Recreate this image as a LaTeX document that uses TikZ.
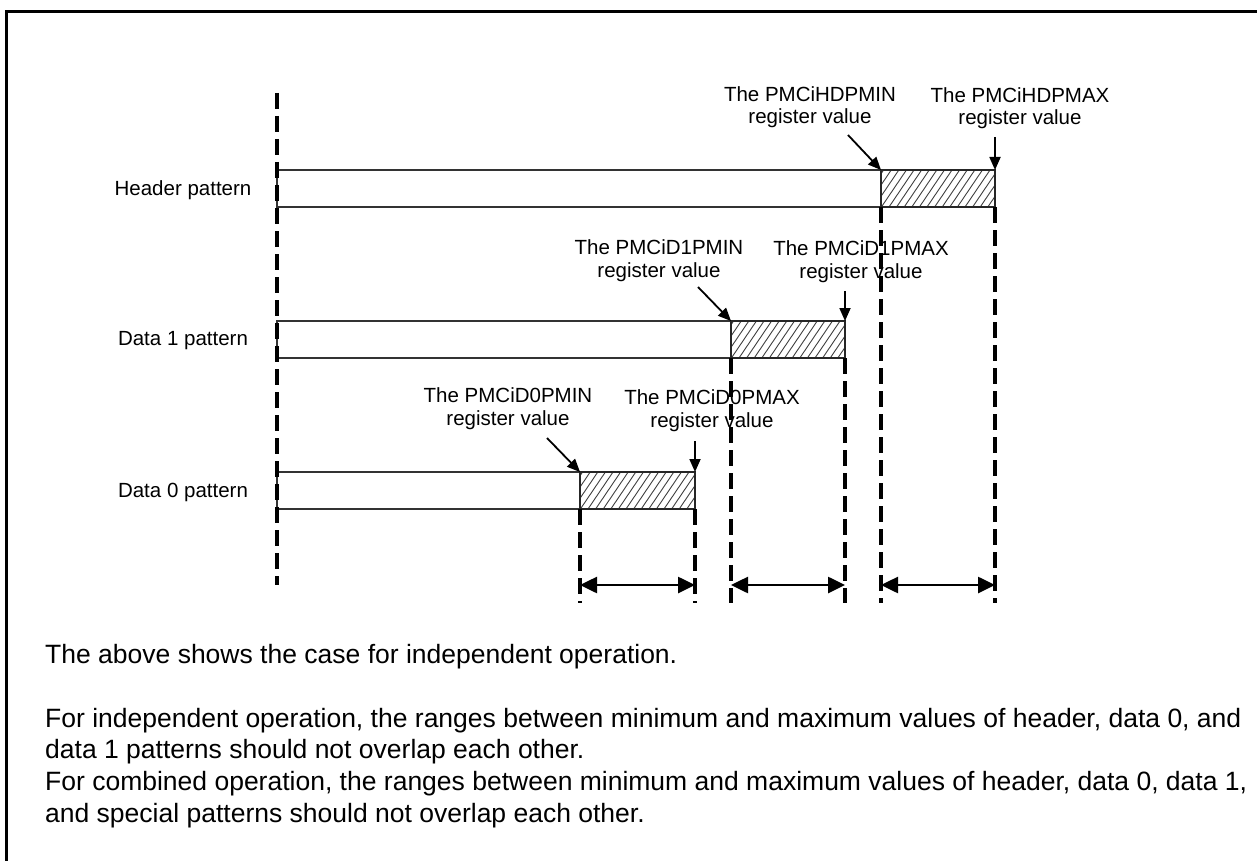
\documentclass[tikz,border=0pt]{standalone}
\usepackage{fontspec}
\setmainfont{Liberation Sans}
\usetikzlibrary{arrows.meta}
\begin{document}
\begin{tikzpicture}[x=1pt,y=-1pt,
  lbl/.style={font=\fontsize{20.5}{22.5}\selectfont, inner sep=0pt, align=center, anchor=base},
  plabel/.style={font=\fontsize{20.5}{24}\selectfont, inner sep=0pt, anchor=base},
  body/.style={font=\fontsize{26.5}{32}\selectfont, inner sep=0pt, anchor=base west},
  bar/.style={draw=black!80, line width=1.3pt},
  hatchbox/.style={draw=black!85, line width=1.3pt},
  hatchline/.style={draw=black!75, line width=0.9pt},
  guide/.style={line width=3.3pt, dash pattern=on 16pt off 7pt},
  ptr/.style={line width=1.8pt, -{Triangle[length=13pt,width=11pt]}},
  span/.style={line width=2.6pt, {Triangle[length=17pt,width=16pt]}-{Triangle[length=17pt,width=16pt]}},
  frame/.style={line width=3.6pt},
]
\useasboundingbox (0,0) rectangle (1257,861);

% frame
\draw[frame] (6.5,861) -- (6.5,11.5) -- (1257,11.5);

% key coordinates
\coordinate (origtop) at (277,93);
\coordinate (origbot) at (277,585);
% header
\coordinate (h0) at (277,170);
\coordinate (hmn) at (881,170);
\coordinate (hmx) at (995,170);
\coordinate (hmnb) at (881,207);
\coordinate (hmxb) at (995,207);
% data 1
\coordinate (a0) at (277,321);
\coordinate (amn) at (731,321);
\coordinate (amx) at (845,321);
\coordinate (amnb) at (731,358);
\coordinate (amxb) at (845,358);
% data 0
\coordinate (b0) at (277,472);
\coordinate (bmn) at (580,472);
\coordinate (bmx) at (695,472);
\coordinate (bmnb) at (580,509);
\coordinate (bmxb) at (695,509);

% bars
\draw[bar] (h0) rectangle (hmnb);
\draw[bar] (a0) rectangle (amnb);
\draw[bar] (b0) rectangle (bmnb);

% hatched parts
\begin{scope}
  \clip (hmn) rectangle (hmxb);
  \foreach \i in {0,...,20} \draw[hatchline] ({881-30+\i*7.6},207) -- ++(25,-37);
\end{scope}
\draw[hatchbox] (hmn) rectangle (hmxb);
\begin{scope}
  \clip (amn) rectangle (amxb);
  \foreach \i in {0,...,20} \draw[hatchline] ({731-30+\i*7.6},358) -- ++(25,-37);
\end{scope}
\draw[hatchbox] (amn) rectangle (amxb);
\begin{scope}
  \clip (bmn) rectangle (bmxb);
  \foreach \i in {0,...,20} \draw[hatchline] ({580-30+\i*7.6},509) -- ++(25,-37);
\end{scope}
\draw[hatchbox] (bmn) rectangle (bmxb);

% guides
\draw[guide] (origtop) -- (origbot);
\coordinate (hmnd) at (881,603);
\coordinate (hmxd) at (995,603);
\coordinate (amnd) at (731,603);
\coordinate (amxd) at (845,603);
\coordinate (bmnd) at (580,603);
\coordinate (bmxd) at (695,603);
\draw[guide] (hmnb) -- (hmnd);
\draw[guide] (hmxb) -- (hmxd);
\draw[guide] (amnb) -- (amnd);
\draw[guide] (amxb) -- (amxd);
\draw[guide] (bmnb) -- (bmnd);
\draw[guide] (bmxb) -- (bmxd);

% span arrows
\coordinate (s1a) at (580,585);
\coordinate (s1b) at (695,585);
\coordinate (s2a) at (731,585);
\coordinate (s2b) at (845,585);
\coordinate (s3a) at (881,585);
\coordinate (s3b) at (995,585);
\draw[span] (s1a) -- (s1b);
\draw[span] (s2a) -- (s2b);
\draw[span] (s3a) -- (s3b);

% pattern labels
\node[plabel] (hlab) at (183,195) {Header pattern};
\node[plabel] (alab) at (183,345) {Data 1 pattern};
\node[plabel] (blab) at (183,497) {Data 0 pattern};

% register labels (base = baseline of the last line)
\node[lbl] (hminl) at (810,124) {The PMCiHDPMIN\\register value};
\node[lbl] (hmaxl) at (1020,125) {The PMCiHDPMAX\\register value};
\node[lbl] (aminl) at (659,277) {The PMCiD1PMIN\\register value};
\node[lbl] (amaxl) at (861,278) {The PMCiD1PMAX\\register value};
\node[lbl] (bminl) at (508,425) {The PMCiD0PMIN\\register value};
\node[lbl] (bmaxl) at (712,427) {The PMCiD0PMAX\\register value};

% pointer arrows
\coordinate (hmint) at (848,135);
\coordinate (hmaxt) at (995,137);
\coordinate (amint) at (698,287);
\coordinate (amaxt) at (845,291);
\coordinate (bmint) at (547,438);
\coordinate (bmaxt) at (695,441);
\draw[ptr] (hmint) -- (hmn);
\draw[ptr] (hmaxt) -- (hmx);
\draw[ptr] (amint) -- (amn);
\draw[ptr] (amaxt) -- (amx);
\draw[ptr] (bmint) -- (bmn);
\draw[ptr] (bmaxt) -- (bmx);

% body text
\node[body] (t1) at (45,663) {The above shows the case for independent operation.};
\node[body] (t2) at (45,727) {For independent operation, the ranges between minimum and maximum values of header, data 0, and};
\node[body] (t3) at (45,758) {data 1 patterns should not overlap each other.};
\node[body] (t4) at (45,790) {For combined operation, the ranges between minimum and maximum values of header, data 0, data 1,};
\node[body] (t5) at (45,822) {and special patterns should not overlap each other.};
\end{tikzpicture}
\end{document}
